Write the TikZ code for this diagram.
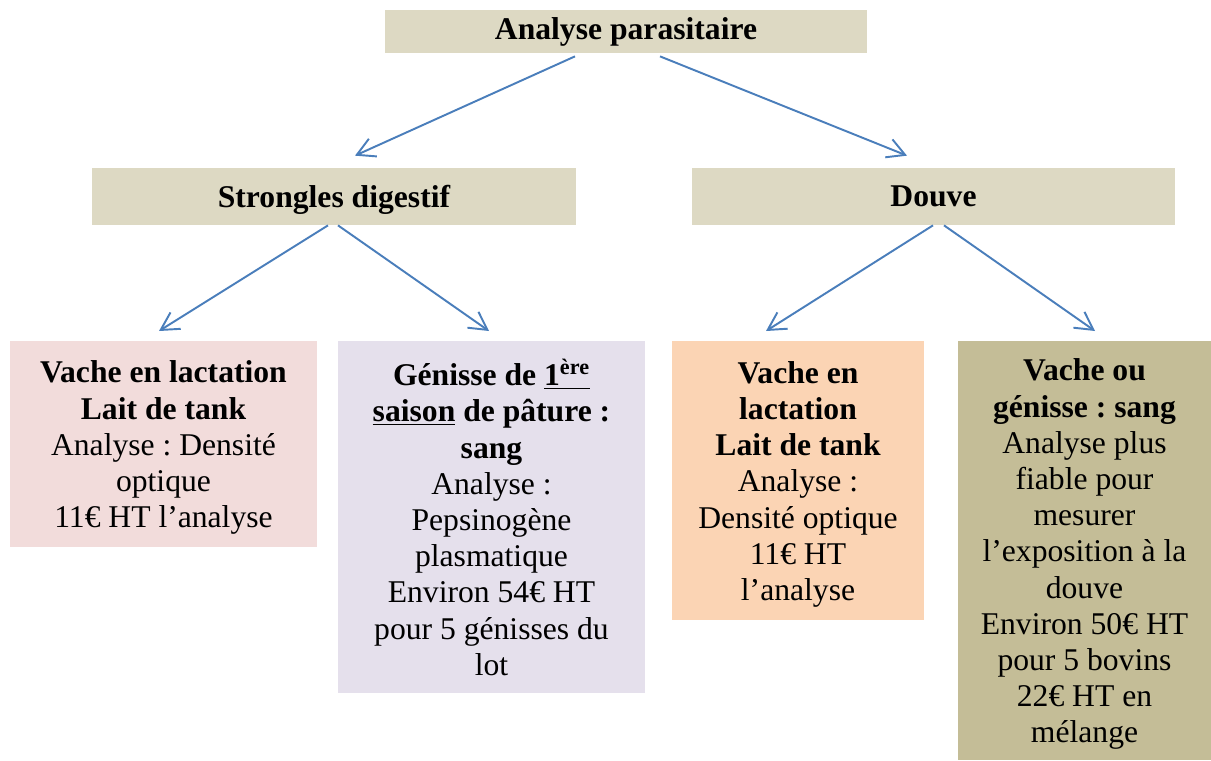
\documentclass[tikz,border=0pt]{standalone}
\usepackage{fontspec}
\setmainfont{Liberation Serif}
\frenchspacing
\usetikzlibrary{arrows.meta}
\definecolor{tanbg}{HTML}{DDD9C3}
\definecolor{pinkbg}{HTML}{F2DCDB}
\definecolor{lilacbg}{HTML}{E5E0EC}
\definecolor{peachbg}{HTML}{FBD4B4}
\definecolor{khakibg}{HTML}{C4BD97}
\definecolor{arrowblue}{HTML}{4A7EBB}
\begin{document}
\begin{tikzpicture}[
		box/.style={inner sep=0pt, align=center, text depth=0pt, font=\fontsize{18}{20.6}\selectfont},
		head/.style={inner sep=0pt, fill=tanbg, font=\fontsize{18}{20.6}\selectfont\bfseries},
		arr/.style={draw=arrowblue, line width=1.1pt, -{Straight Barb[length=10pt,width=11pt]}}
	]
		\useasboundingbox (0,0) rectangle (24.22,-15.2);
		
		\node[head, minimum width=9.64cm, minimum height=0.86cm] (A) at (12.52,-0.63) {Analyse parasitaire};
		\node[head, text depth=0pt, minimum width=9.68cm, minimum height=1.14cm] (S) at (6.68,-3.93) {Strongles digestif};
		\node[head, text depth=0pt, minimum width=9.66cm, minimum height=1.14cm] (D) at (18.67,-3.93) {Douve};
		
		\node[box, fill=pinkbg, minimum width=6.14cm, minimum height=4.12cm, anchor=north] (B1) at (3.27,-6.82)
			{\textbf{Vache en lactation}\\ \textbf{Lait de tank}\\ Analyse : Densité\\ optique\\ 11€ HT l’analyse};
		\node[box, fill=lilacbg, minimum width=6.14cm, minimum height=7.04cm, anchor=north] (B2) at (9.83,-6.82)
			{\textbf{Génisse de \underline{1\textsuperscript{ère}}}\\ \textbf{\underline{saison} de pâture :}\\ \textbf{sang}\\ Analyse :\\ Pepsinogène\\ plasmatique\\ Environ 54€ HT\\ pour 5 génisses du\\ lot};
		\node[box, fill=peachbg, minimum width=5.04cm, minimum height=5.58cm, anchor=north] (B3) at (15.96,-6.82)
			{\textbf{Vache en}\\ \textbf{lactation}\\ \textbf{Lait de tank}\\ Analyse :\\ Densité optique\\ 11€ HT\\ l’analyse};
		\node[box, fill=khakibg, minimum width=5.06cm, minimum height=8.38cm, anchor=north] (B4) at (21.69,-6.82)
			{\textbf{Vache ou}\\ \textbf{génisse : sang}\\ Analyse plus\\ fiable pour\\ mesurer\\ l’exposition à la\\ douve\\ Environ 50€ HT\\ pour 5 bovins\\ 22€ HT en\\ mélange};
		
		% arrows
		\draw[arr] ([xshift=-1.02cm,yshift=-0.06cm]A.south) -- ([xshift=0.42cm,yshift=0.24cm]S.north);
		\draw[arr] ([xshift=0.68cm,yshift=-0.06cm]A.south) -- ([xshift=-0.53cm,yshift=0.24cm]D.north);
		\draw[arr] ([xshift=-0.12cm]S.south) -- ([xshift=-0.09cm,yshift=0.2cm]B1.north);
		\draw[arr] ([xshift=0.08cm]S.south) -- ([xshift=-0.05cm,yshift=0.2cm]B2.north);
		\draw[arr] ([xshift=-0.01cm]D.south) -- ([xshift=-0.64cm,yshift=0.2cm]B3.north);
		\draw[arr] ([xshift=0.21cm]D.south) -- ([xshift=0.21cm,yshift=0.2cm]B4.north);
	\end{tikzpicture}
\end{document}
